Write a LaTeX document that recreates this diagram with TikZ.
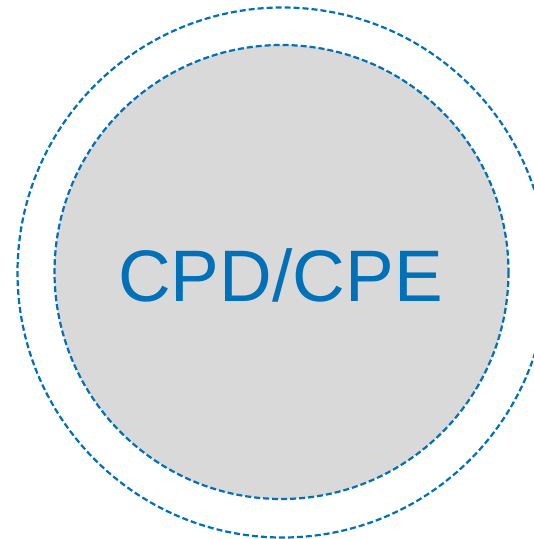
\documentclass[tikz,border=0pt]{standalone}
\usepackage{fontspec}
\setmainfont{Liberation Sans}
\definecolor{ringblue}{HTML}{0070B8}
\definecolor{discgray}{HTML}{D9D9D9}
\begin{document}
\begin{tikzpicture}[x=1pt,y=-1pt,
  ring/.style={draw=ringblue,line width=2.2pt,dash pattern=on 6pt off 3pt},
  label/.style={text=ringblue,font=\fontsize{73}{80}\selectfont,inner sep=0pt,anchor=base}]
  \useasboundingbox (0,0) rectangle (534,539);
  % outer dashed ring
  \draw[ring] (282.5,272.5) circle[radius=265];
  % inner grey disc with dashed rim
  \draw[ring,fill=discgray] (281.5,272) circle[radius=227];
  \node[label] (title) at (280.5,301) {CPD/CPE};
\end{tikzpicture}
\end{document}
